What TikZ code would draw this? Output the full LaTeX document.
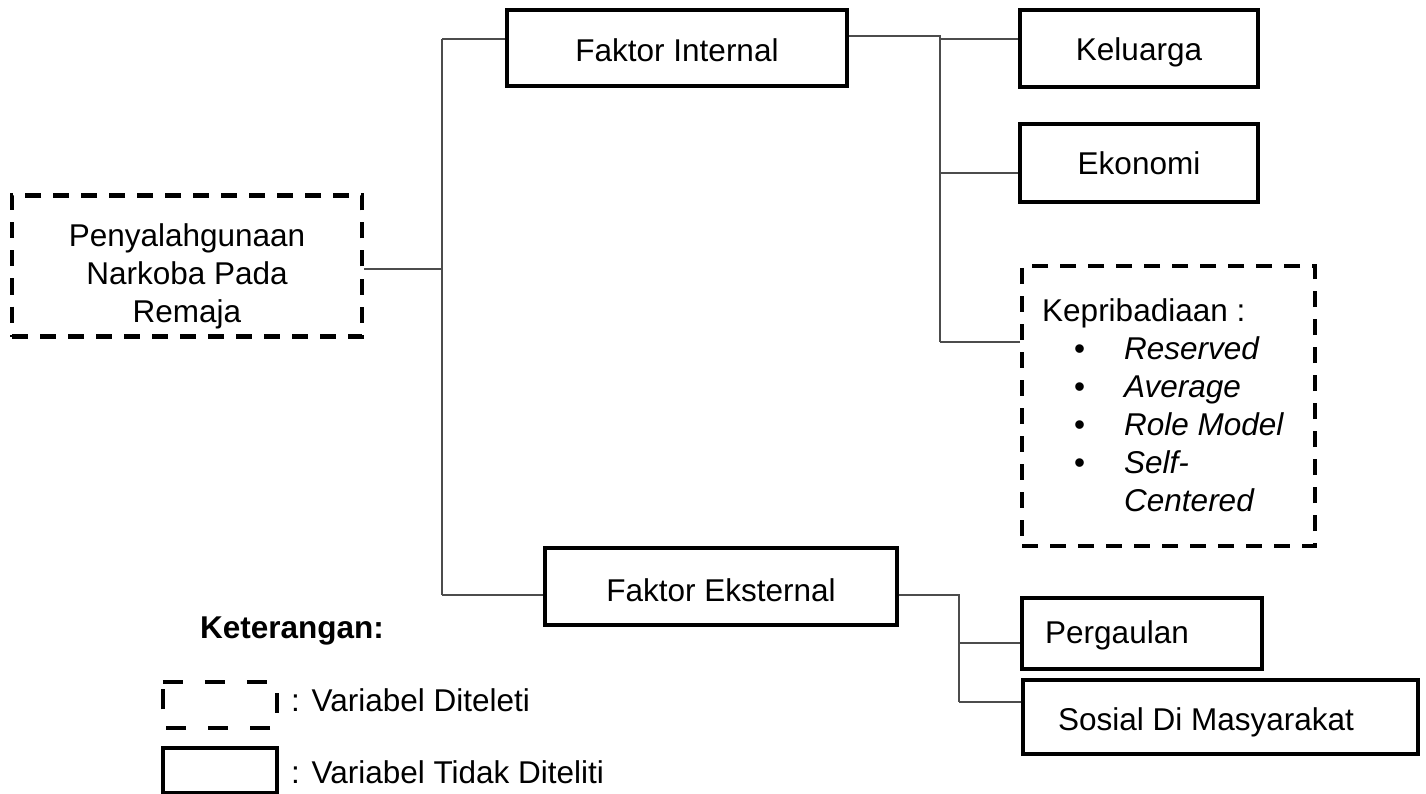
\documentclass[tikz,border=0pt]{standalone}
\usepackage{fontspec}
\setmainfont{Liberation Sans}
\begin{document}
\begin{tikzpicture}[x=1pt,y=-1pt,
  every node/.style={font=\fontsize{31.5}{38}\selectfont},
  solidbox/.style={draw=black, line width=4.5pt, rectangle, inner sep=0pt},
  dashbox/.style={draw=black, line width=4.5pt, rectangle, inner sep=0pt, dash pattern=on 16pt off 12pt},
  legdash/.style={draw=black, line width=4.5pt, dash pattern=on 20pt off 22pt},
  conn/.style={draw=black!70, line width=1.3pt},
  plain/.style={inner sep=0pt, anchor=west}]
\useasboundingbox (0,0) rectangle (1426,794);

% boxes
\node[dashbox, minimum width=350, minimum height=141] (main) at (187,266) {};
\node[inner sep=0pt, align=center] (maintext) at (187,276) {Penyalahgunaan\\Narkoba Pada\\Remaja};
\node[solidbox, minimum width=340, minimum height=76] (fi) at (677,48) {};
\node[inner sep=0pt] (fitext) at (677,50) {Faktor Internal};
\node[solidbox, minimum width=352, minimum height=77] (fe) at (721,586.5) {};
\node[inner sep=0pt] (fetext) at (721,590) {Faktor Eksternal};
\node[solidbox, minimum width=238, minimum height=77] (kel) at (1139,48.5) {};
\node[inner sep=0pt] (keltext) at (1139,52) {Keluarga};
\node[solidbox, minimum width=238, minimum height=78] (eko) at (1139,163) {Ekonomi};
\node[dashbox, minimum width=293, minimum height=280] (kep) at (1168.5,406) {};
\node[inner sep=0pt, anchor=west, align=left, font=\fontsize{31.5}{38}\selectfont] (keptext) at (1042,405)
  {Kepribadiaan :\\
   \makebox[82pt][l]{\hspace*{32pt}\textbullet}\textit{Reserved}\\
   \makebox[82pt][l]{\hspace*{32pt}\textbullet}\textit{Average}\\
   \makebox[82pt][l]{\hspace*{32pt}\textbullet}\textit{Role Model}\\
   \makebox[82pt][l]{\hspace*{32pt}\textbullet}\textit{Self-}\\
   \makebox[82pt][l]{}\textit{Centered}};
\node[solidbox, minimum width=240, minimum height=71] (perg) at (1142,633.5) {};
\node[plain] (pergtext) at (1045,635) {Pergaulan};
\node[solidbox, minimum width=395, minimum height=74] (sos) at (1220.5,717) {};
\node[plain] (sostext) at (1058,722) {Sosial Di Masyarakat};

% connectors
\coordinate (t1) at (442,39);
\coordinate (b1) at (442,595);
\coordinate (t2) at (940,36);
\coordinate (k1) at (940,39);
\coordinate (k2) at (940,173);
\coordinate (b2) at (940,342);
\coordinate (t3) at (959,595);
\coordinate (p1) at (959,643);
\coordinate (b3) at (959,702);

\draw[conn] (main.east |- 0,269) -- (442,269);
\draw[conn] (t1) -- (b1);
\draw[conn] (t1) -- (t1 -| fi.west);
\draw[conn] (b1) -- (b1 -| fe.west);
\draw[conn] (fi.east |- t2) -- (t2) -- (b2);
\draw[conn] (k1) -- (k1 -| kel.west);
\draw[conn] (k2) -- (k2 -| eko.west);
\draw[conn] (b2) -- (b2 -| kep.west);
\draw[conn] (fe.east |- t3) -- (t3) -- (b3);
\draw[conn] (p1) -- (p1 -| perg.west);
\draw[conn] (b3) -- (b3 -| sos.west);

% legend
\node[plain, font=\bfseries\fontsize{31.5}{38}\selectfont] (ket) at (200,631) {Keterangan:};
\node[inner sep=0pt, minimum width=114, minimum height=46] (legd) at (220,705) {};
\draw[legdash] (legd.north west) -- (legd.north east) -- (legd.south east) -- (legd.south west) -- cycle;
\node[plain] (legdt) at (291,700) {: Variabel Diteleti};
\node[solidbox, minimum width=114, minimum height=45] (legs) at (220,770.5) {};
\node[plain] (legst) at (291,772) {: Variabel Tidak Diteliti};
\end{tikzpicture}
\end{document}
